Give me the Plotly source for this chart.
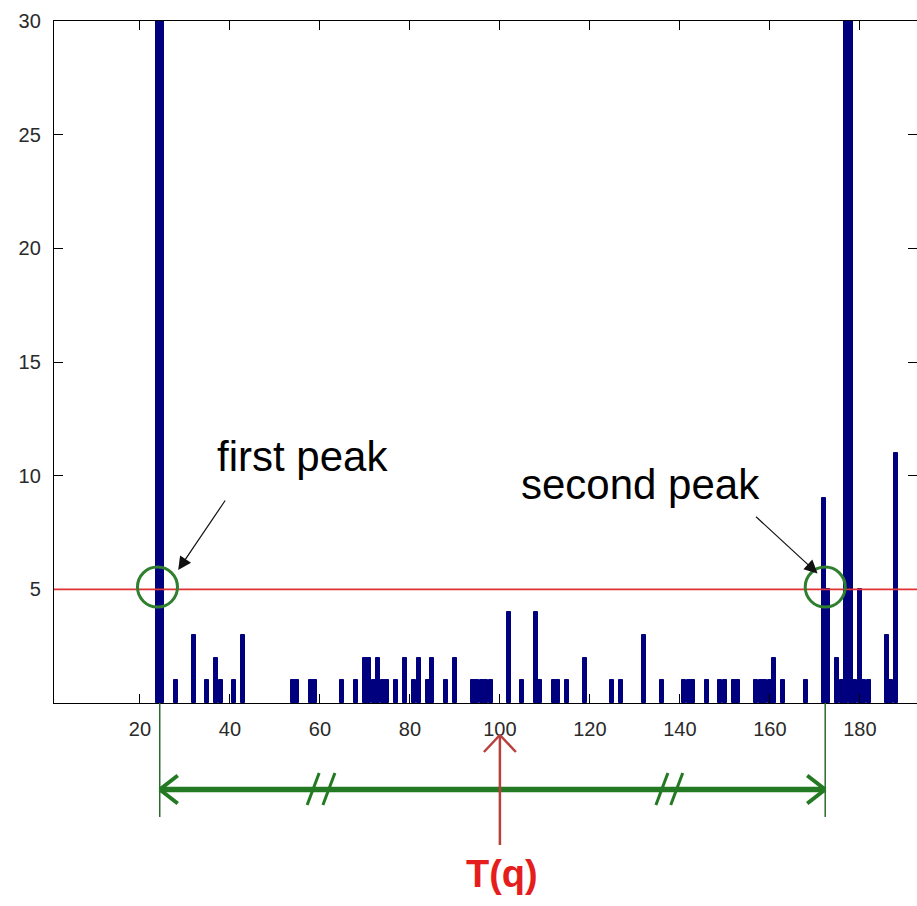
import plotly.graph_objects as go

# Histogram of peak-to-peak intervals: bin position and count per bin
bins = [24, 25, 28, 32, 35, 37, 38, 41, 43,
        54, 55, 58, 59, 65, 68, 70, 71, 72, 73, 74, 75, 77, 79,
        81, 82, 84, 85, 88, 90, 94, 95, 96, 97, 98,
        102, 105, 108, 109, 112, 113, 115, 119,
        125, 127, 132, 136, 141, 142, 143, 146, 149, 150, 152, 153,
        157, 158, 159, 160, 161, 163, 168,
        172, 173, 175, 176, 177, 178, 179, 180, 181, 182, 186, 187, 188]
counts = [40, 40, 1, 3, 1, 2, 1, 1, 3,
          1, 1, 1, 1, 1, 1, 2, 2, 1, 2, 1, 1, 1, 2,
          1, 2, 1, 2, 1, 2, 1, 1, 1, 1, 1,
          4, 1, 4, 1, 1, 1, 1, 2,
          1, 1, 3, 1, 1, 1, 1, 1, 1, 1, 1, 1,
          1, 1, 1, 1, 2, 1, 1,
          9, 5, 2, 1, 40, 40, 1, 5, 1, 1, 3, 1, 11]
assert len(bins) == len(counts)

x_ticks = [20, 40, 60, 80, 100, 120, 140, 160, 180]
y_ticks = [5, 10, 15, 20, 25, 30]
x_range = [0.9, 192.7]
y_range = [0, 30]

threshold = 5
first_peak = 24.4
second_peak = 172.3
period_mark = 100  # T(q)

# figure geometry (pixels)
W, H = 917, 906
M_L, M_T, M_B = 54, 21, 203
plot_h = H - M_T - M_B
plot_w = W - M_L


def py(pixel_y):
    """Vertical pixel position -> paper coordinate."""
    return (M_T + plot_h - pixel_y) / plot_h


def dx(pixels):
    """Horizontal pixel distance -> x data units."""
    return pixels * (x_range[1] - x_range[0]) / plot_w


def dy(pixels):
    """Vertical pixel distance -> y data units."""
    return pixels * (y_range[1] - y_range[0]) / plot_h


FONT = "Liberation Sans, Arial, sans-serif"
GREEN = "#237a23"
DARK_GREEN = "#2c6b2c"
BAR = "#00007f"

fig = go.Figure(
    go.Bar(
        x=bins,
        y=counts,
        width=0.9,
        marker=dict(color=BAR, line=dict(color=BAR, width=1.0)),
        hoverinfo="x+y",
    )
)

shapes = []

# threshold line
shapes.append(dict(type="line", xref="paper", yref="y", x0=0, x1=1,
                   y0=threshold, y1=threshold, layer="above",
                   line=dict(color="#e03232", width=1.6)))

# circles marking where the threshold is crossed
r_px = 20
for cx in (first_peak - 0.5, second_peak):
    shapes.append(dict(type="circle", xref="x", yref="y", layer="above",
                       x0=cx - dx(r_px), x1=cx + dx(r_px),
                       y0=threshold + 0.1 - dy(r_px), y1=threshold + 0.1 + dy(r_px),
                       line=dict(color="#2f7f2f", width=3)))

# vertical guides from the two peaks down to the interval arrow
for gx in (first_peak, second_peak):
    shapes.append(dict(type="line", xref="x", yref="paper",
                       x0=gx, x1=gx, y0=py(703), y1=py(817),
                       line=dict(color=DARK_GREEN, width=1.5)))

# double-headed interval arrow
arrow_y = 789.5
shapes.append(dict(type="line", xref="x", yref="paper",
                   x0=first_peak, x1=second_peak, y0=py(arrow_y), y1=py(arrow_y),
                   line=dict(color=GREEN, width=5.5)))
for tip, sign in ((first_peak, 1), (second_peak, -1)):
    for off in (-14, 14):
        shapes.append(dict(type="line", xref="x", yref="paper",
                           x0=tip, y0=py(arrow_y),
                           x1=tip + sign * dx(18), y1=py(arrow_y + off),
                           line=dict(color=GREEN, width=4)))

# "//" break marks on the interval arrow
for sx in (58.5, 62.0, 136.0, 139.3):
    shapes.append(dict(type="line", xref="x", yref="paper",
                       x0=sx + dx(6), y0=py(773), x1=sx - dx(6), y1=py(805),
                       line=dict(color=GREEN, width=3)))

# red arrow pointing at T(q)
RED_ARROW = "#b8403c"
shapes.append(dict(type="line", xref="x", yref="paper",
                   x0=period_mark, x1=period_mark, y0=py(845), y1=py(735),
                   line=dict(color=RED_ARROW, width=2.5)))
for side in (-1, 1):
    shapes.append(dict(type="line", xref="x", yref="paper",
                       x0=period_mark, y0=py(735),
                       x1=period_mark + side * dx(16), y1=py(752),
                       line=dict(color=RED_ARROW, width=2.5)))

annotations = [
    dict(x=56.2, y=10.85, xref="x", yref="y", text="first peak",
         showarrow=False, xanchor="center", yanchor="middle",
         font=dict(family=FONT, size=42, color="#000000")),
    dict(x=131.3, y=9.6, xref="x", yref="y", text="second peak",
         showarrow=False, xanchor="center", yanchor="middle",
         font=dict(family=FONT, size=42, color="#000000")),
    # pointer arrows
    dict(x=28.5, y=5.85, xref="x", yref="y", text="", showarrow=True,
         ax=48, ay=-71, arrowhead=2, arrowsize=2.2, arrowwidth=1.2,
         arrowcolor="#111111", standoff=0),
    dict(x=170.6, y=5.7, xref="x", yref="y", text="", showarrow=True,
         ax=-63, ay=-58, arrowhead=2, arrowsize=2.2, arrowwidth=1.2,
         arrowcolor="#111111", standoff=0),
    dict(x=period_mark + 0.5, y=py(874), xref="x", yref="paper", text="<b>T(q)</b>",
         showarrow=False, xanchor="center", yanchor="middle",
         font=dict(family=FONT, size=38, color="#e51d1d")),
]

axis_common = dict(
    showline=True, linecolor="#000000", linewidth=1.3, mirror="ticks",
    ticks="inside", ticklen=9, tickwidth=1, tickcolor="#000000",
    showgrid=False, zeroline=False,
    tickfont=dict(family=FONT, size=20, color="#2a2a2a"),
    ticklabelstandoff=8,
)

fig.update_layout(
    width=W, height=H,
    margin=dict(l=M_L, r=0, t=M_T, b=M_B, pad=0),
    paper_bgcolor="#ffffff", plot_bgcolor="#ffffff",
    showlegend=False,
    bargap=0,
    shapes=shapes,
    annotations=annotations,
    xaxis=dict(range=x_range, tickmode="array", tickvals=x_ticks, **axis_common),
    yaxis=dict(range=y_range, tickmode="array", tickvals=y_ticks, **axis_common),
)

fig.write_html("out.html")
